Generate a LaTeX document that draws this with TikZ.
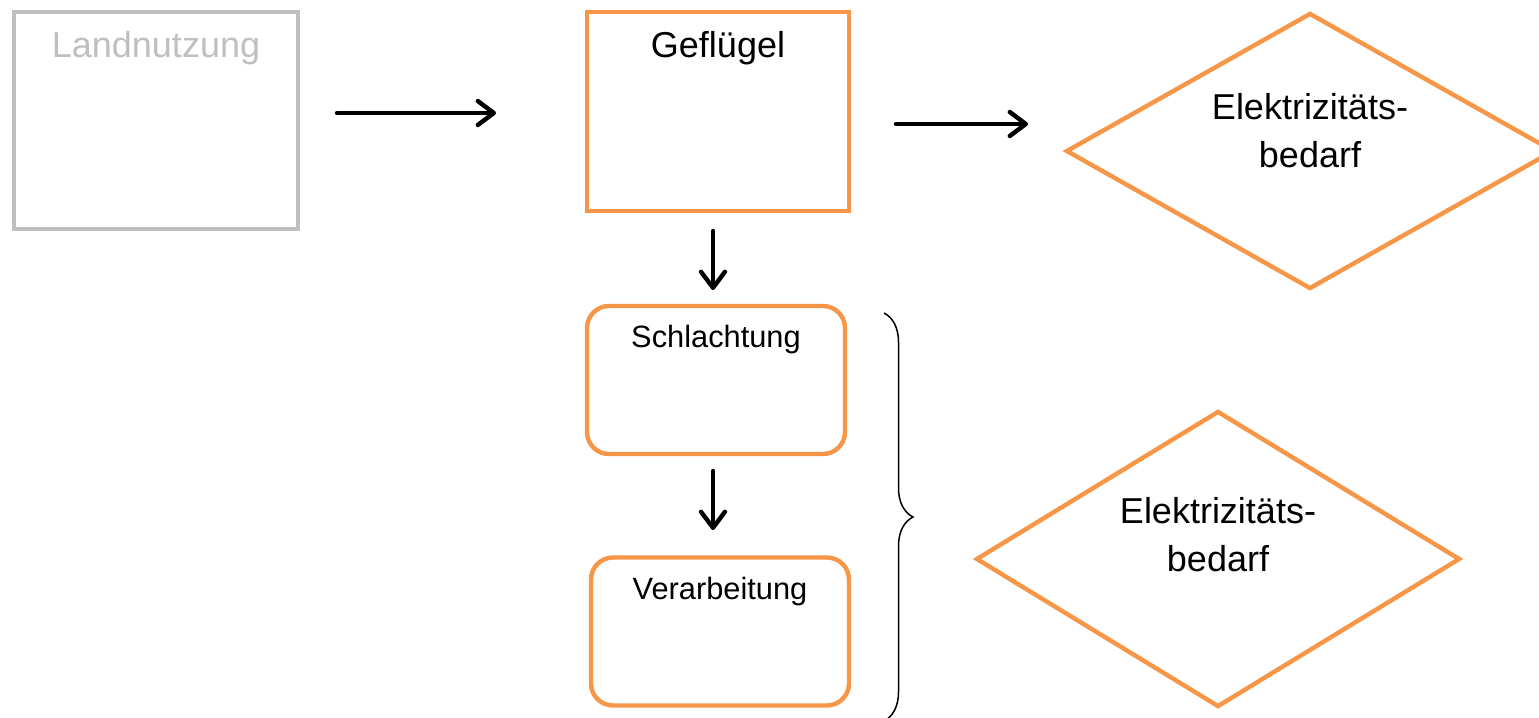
\documentclass[tikz,border=0pt]{standalone}
\usepackage{fontspec}
\setmainfont{Liberation Sans}
\usetikzlibrary{arrows.meta,positioning,shapes.geometric,decorations.pathreplacing}
\definecolor{boxorange}{HTML}{F79646}
\definecolor{boxgray}{HTML}{BFBFBF}

\begin{document}
\begin{tikzpicture}[x=0.5pt,y=-0.5pt,
  flowbox/.style={draw=boxorange,line width=2.2pt,inner sep=0pt,minimum width=131pt,minimum height=99.5pt},
  roundbox/.style={flowbox,rounded corners=11pt,minimum width=129pt,minimum height=74pt},
  decision/.style={diamond,draw=boxorange,line width=2.2pt,inner sep=0pt},
  bigtext/.style={font=\fontsize{18}{24}\selectfont,inner sep=0pt},
  smalltext/.style={font=\fontsize{15.4}{20}\selectfont,inner sep=0pt},
  flowarrow/.style={line width=2.2pt,line cap=round,-{Straight Barb[length=8pt,width=12pt,round]}}]
  \clip (0,0) rectangle (1539,718);
  \node[flowbox,draw=boxgray,minimum width=142pt,minimum height=108.5pt] (land) at (156,120.5) {};
  \node[flowbox] (gefl) at (718,111.5) {};
  \node[roundbox] (schl) at (716,380) {};
  \node[roundbox] (verarb) at (720,631.5) {};
  \node[decision,minimum width=244pt,minimum height=138pt] (elek1) at (1310,151) {};
  \node[decision,minimum width=242pt,minimum height=148pt] (elek2) at (1218,559) {};

  \node[bigtext,text=boxgray,anchor=base] (land-t) at (156,57) {Landnutzung};
  \node[bigtext,anchor=base] (gefl-t) at (718,57) {Geflügel};
  \node[smalltext,anchor=base] (schl-t) at (716,347) {Schlachtung};
  \node[smalltext,anchor=base] (verarb-t) at (720,599) {Verarbeitung};
  \node[bigtext,align=center,anchor=base] (elek1-t) at (1310,167) {Elektrizitäts-\\bedarf};
  \node[bigtext,align=center,anchor=base] (elek2-t) at (1218,571) {Elektrizitäts-\\bedarf};

  \coordinate (a1s) at (337,113);
  \coordinate (a1e) at (496,113);
  \coordinate (a2s) at (896,124);
  \coordinate (a2e) at (1028,124);
  \coordinate (a3s) at (713,231);
  \coordinate (a3e) at (713,290);
  \coordinate (a4s) at (713,471);
  \coordinate (a4e) at (713,530);
  \draw[flowarrow] (a1s) -- (a1e);
  \draw[flowarrow] (a2s) -- (a2e);
  \draw[flowarrow] (a3s) -- (a3e);
  \draw[flowarrow] (a4s) -- (a4e);

  \coordinate (br-top) at (884,313);
  \coordinate (br-bot) at (884,721);
  \draw[line width=0.75pt,decorate,decoration={brace,amplitude=14.5pt}] (br-top) -- (br-bot);
\end{tikzpicture}
\end{document}
